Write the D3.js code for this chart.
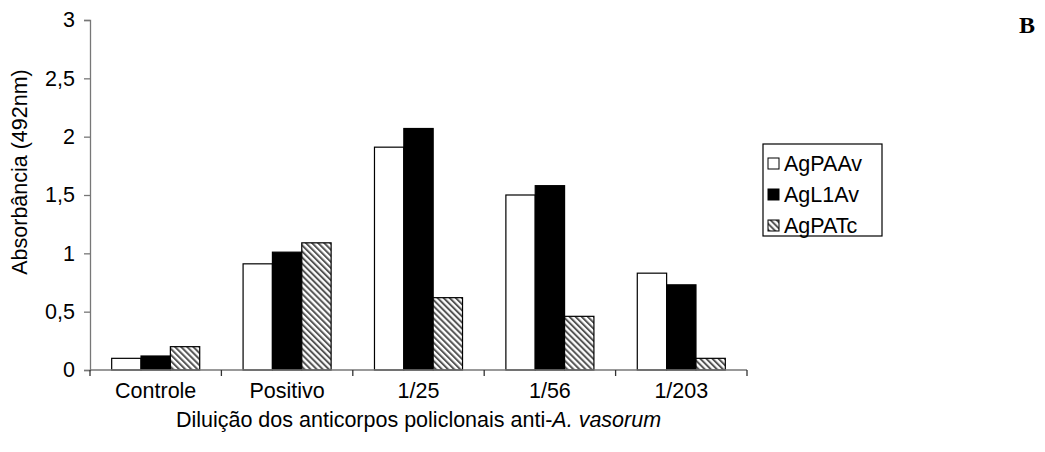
<!DOCTYPE html>
<html>
<head>
<meta charset="utf-8">
<script src="https://cdn.jsdelivr.net/npm/d3@7"></script>
<style>
  html, body { margin: 0; padding: 0; background: #fff; }
  svg { display: block; }
  text { font-family: Arial, "Liberation Sans", sans-serif; fill: #000; }
</style>
</head>
<body>
<svg id="chart" width="1045" height="452"></svg>
<script>
// Dilution groups along the x axis
const categories = ["Controle", "Positivo", "1/25", "1/56", "1/203"];
// Antigen series
const seriesNames = ["AgPAAv", "AgL1Av", "AgPATc"];
// Absorbance at 492 nm per series, in category order
const agPAAv = [0.10, 0.91, 1.91, 1.50, 0.83];
const agL1Av = [0.12, 1.01, 2.07, 1.58, 0.73];
const agPATc = [0.20, 1.09, 0.62, 0.46, 0.10];
const seriesValues = [agPAAv, agL1Av, agPATc];
// Y axis tick values and their labels (decimal comma)
const yTicks = [0, 0.5, 1, 1.5, 2, 2.5, 3];
const yTickLabels = ["0", "0,5", "1", "1,5", "2", "2,5", "3"];

const FS = "21.5px";
const svg = d3.select("#chart");
const margin = { left: 90, top: 20, right: 298, bottom: 82 };
const W = 1045, H = 452;
const plotW = W - margin.left - margin.right;
const plotH = H - margin.top - margin.bottom;

// Hatched diagonal stripes for the third series
const defs = svg.append("defs");
const pat = defs.append("pattern")
  .attr("id", "hatch")
  .attr("patternUnits", "userSpaceOnUse")
  .attr("width", 4.3).attr("height", 4.3)
  .attr("patternTransform", "rotate(-45)");
pat.append("rect").attr("width", 4.3).attr("height", 4.3).attr("fill", "#fff");
pat.append("rect").attr("x", 0).attr("width", 2).attr("height", 4.3).attr("fill", "#555");

const fills = ["#fff", "#000", "url(#hatch)"];

const g = svg.append("g").attr("transform", `translate(${margin.left},${margin.top})`);

const x0 = d3.scaleBand().domain(categories).range([0, plotW]).paddingInner(0).paddingOuter(0);
const x1 = d3.scaleBand().domain(seriesNames)
  .range([x0.bandwidth() * 0.165, x0.bandwidth() * 0.835]).padding(0);
const y = d3.scaleLinear().domain([0, 3]).range([plotH, 0]);

// Bars
const groups = g.selectAll("g.cat").data(categories).join("g")
  .attr("class", "cat")
  .attr("transform", d => `translate(${x0(d)},0)`);
groups.selectAll("rect").data((d, i) => seriesNames.map((s, j) => ({ s, v: seriesValues[j][i], j })))
  .join("rect")
  .attr("x", d => x1(d.s))
  .attr("y", d => y(d.v))
  .attr("width", x1.bandwidth())
  .attr("height", d => plotH - y(d.v))
  .attr("fill", d => fills[d.j])
  .attr("stroke", "#000")
  .attr("stroke-width", 1.2);

// Y axis
const yAxis = d3.axisLeft(y).tickValues(yTicks)
  .tickFormat((d, i) => yTickLabels[i]).tickSize(6).tickPadding(9);
const yg = g.append("g").call(yAxis);
yg.select(".domain").attr("stroke", "#777").attr("stroke-width", 1.3);
yg.selectAll(".tick line").attr("stroke", "#777").attr("stroke-width", 1.3);
yg.selectAll(".tick text").style("font-size", FS).attr("fill", "#000");

// X axis with ticks on band edges
const xg = g.append("g").attr("transform", `translate(0,${plotH})`);
xg.append("line").attr("x1", 0).attr("x2", plotW).attr("y1", 0).attr("y2", 0)
  .attr("stroke", "#777").attr("stroke-width", 1.3);
const edges = categories.map(c => x0(c)).concat([plotW]);
xg.selectAll("line.tk").data(edges).join("line").attr("class", "tk")
  .attr("x1", d => d).attr("x2", d => d).attr("y1", 0).attr("y2", 6)
  .attr("stroke", "#333").attr("stroke-width", 1.3);
xg.selectAll("text.cl").data(categories).join("text").attr("class", "cl")
  .attr("x", d => x0(d) + x0.bandwidth() / 2)
  .attr("y", 28)
  .attr("text-anchor", "middle")
  .style("font-size", FS)
  .text(d => d);

// Axis titles
const xt = svg.append("text")
  .attr("x", margin.left + plotW / 2)
  .attr("y", 427)
  .attr("text-anchor", "middle")
  .style("font-size", FS);
xt.append("tspan").text("Diluição dos anticorpos policlonais anti-");
xt.append("tspan").style("font-style", "italic").text("A. vasorum");

svg.append("text")
  .attr("transform", `translate(27,172) rotate(-90)`)
  .attr("text-anchor", "middle")
  .style("font-size", FS)
  .text("Absorbância (492nm)");

// Legend
const lg = svg.append("g").attr("transform", "translate(763,144)");
lg.append("rect").attr("width", 119).attr("height", 92)
  .attr("fill", "#fff").attr("stroke", "#000").attr("stroke-width", 1.2);
const items = lg.selectAll("g.item").data(seriesNames).join("g").attr("class", "item")
  .attr("transform", (d, i) => `translate(5,${19 + i * 31})`);
items.append("rect").attr("x", 0).attr("y", -5).attr("width", 11).attr("height", 11)
  .attr("fill", (d, i) => fills[i]).attr("stroke", "#000").attr("stroke-width", 1);
items.append("text").attr("x", 16).attr("y", 8).style("font-size", FS).text(d => d);

// Panel letter
svg.append("text").attr("x", 1019).attr("y", 33)
  .style("font-family", "'Liberation Serif', 'Times New Roman', serif")
  .style("font-weight", "bold").style("font-size", "24px").text("B");
</script>
</body>
</html>
